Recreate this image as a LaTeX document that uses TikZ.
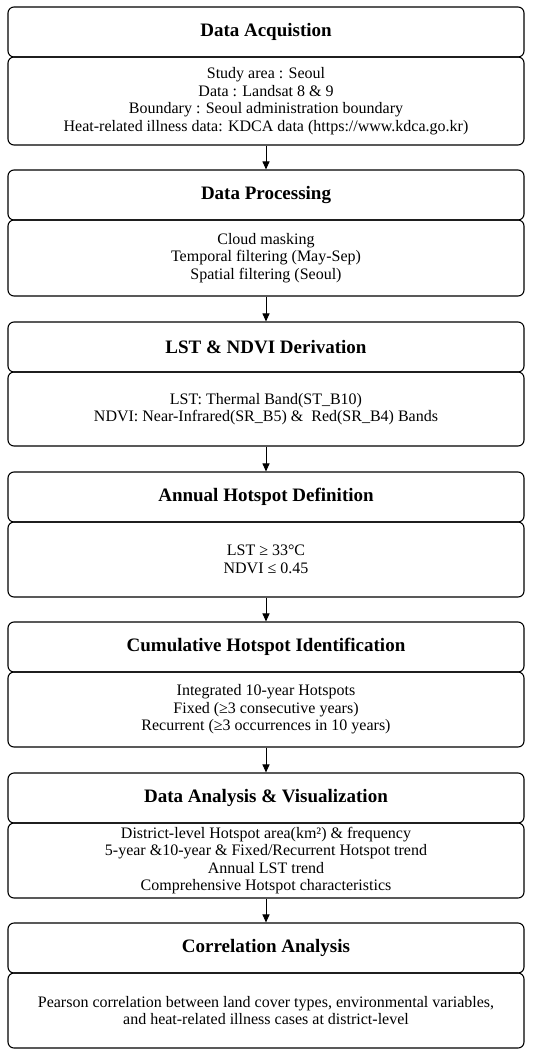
\documentclass[tikz,border=0pt]{standalone}
\usepackage{fontspec}
\setmainfont{Liberation Serif}
\usetikzlibrary{arrows.meta}
\tikzset{
  titlebox/.style={draw, line width=1.1pt, rounded corners=6pt, minimum width=516pt, inner sep=0pt,
    font=\fontsize{19}{20}\selectfont\bfseries, align=center},
  bodybox/.style={draw, line width=1.1pt, rounded corners=6pt, minimum width=516pt, inner sep=0pt,
    font=\fontsize{16}{17.5}\selectfont, align=center},
  flow/.style={-{Triangle[length=8pt,width=7pt]}, line width=1pt}
}
\begin{document}
\begin{tikzpicture}[x=1pt,y=1pt]
\useasboundingbox (0,0) rectangle (534,-1054);
% box 1
\node[titlebox, minimum height=50pt] (t1) at (266,-32) {Data Acquistion};
\node[bodybox, minimum height=88pt] (b1) at (266,-101) {Study area : Seoul\\Data : Landsat 8 \& 9\\Boundary : Seoul administration boundary\\Heat-related illness data: KDCA data (https://www.kdca.go.kr)};
% box 2
\node[titlebox, minimum height=50pt] (t2) at (266,-195) {Data Processing};
\node[bodybox, minimum height=76pt] (b2) at (266,-258) {Cloud masking\\Temporal filtering (May-Sep)\\Spatial filtering (Seoul)};
% box 3
\node[titlebox, minimum height=50pt] (t3) at (266,-347) {LST \& NDVI Derivation};
\node[bodybox, minimum height=74pt] (b3) at (266,-409) {LST: Thermal Band(ST\_B10)\\NDVI: Near-Infrared(SR\_B5) \&\ \ Red(SR\_B4) Bands};
% box 4
\node[titlebox, minimum height=50pt] (t4) at (266,-497) {Annual Hotspot Definition};
\node[bodybox, minimum height=75pt] (b4) at (266,-559.5) {LST ≥ 33°C\\NDVI ≤ 0.45};
% box 5
\node[titlebox, minimum height=50pt] (t5) at (266,-647) {Cumulative Hotspot Identification};
\node[bodybox, minimum height=75pt] (b5) at (266,-709.5) {Integrated 10-year Hotspots\\Fixed (≥3 consecutive years)\\Recurrent (≥3 occurrences in 10 years)};
% box 6
\node[titlebox, minimum height=50pt] (t6) at (266,-798) {Data Analysis \& Visualization};
\node[bodybox, minimum height=75pt] (b6) at (266,-860.5) {District-level Hotspot area(km²) \& frequency\\5-year \&10-year \& Fixed/Recurrent Hotspot trend\\Annual LST trend\\Comprehensive Hotspot characteristics};
% box 7
\node[titlebox, minimum height=50pt] (t7) at (266,-948) {Correlation Analysis};
\node[bodybox, minimum height=75pt] (b7) at (266,-1010.5) {Pearson correlation between land cover types, environmental variables,\\and heat-related illness cases at district-level};
% arrows
\draw[flow] (b1.south) -- (t2.north);
\draw[flow] (b2.south) -- (t3.north);
\draw[flow] (b3.south) -- (t4.north);
\draw[flow] (b4.south) -- (t5.north);
\draw[flow] (b5.south) -- (t6.north);
\draw[flow] (b6.south) -- (t7.north);
\end{tikzpicture}
\end{document}
